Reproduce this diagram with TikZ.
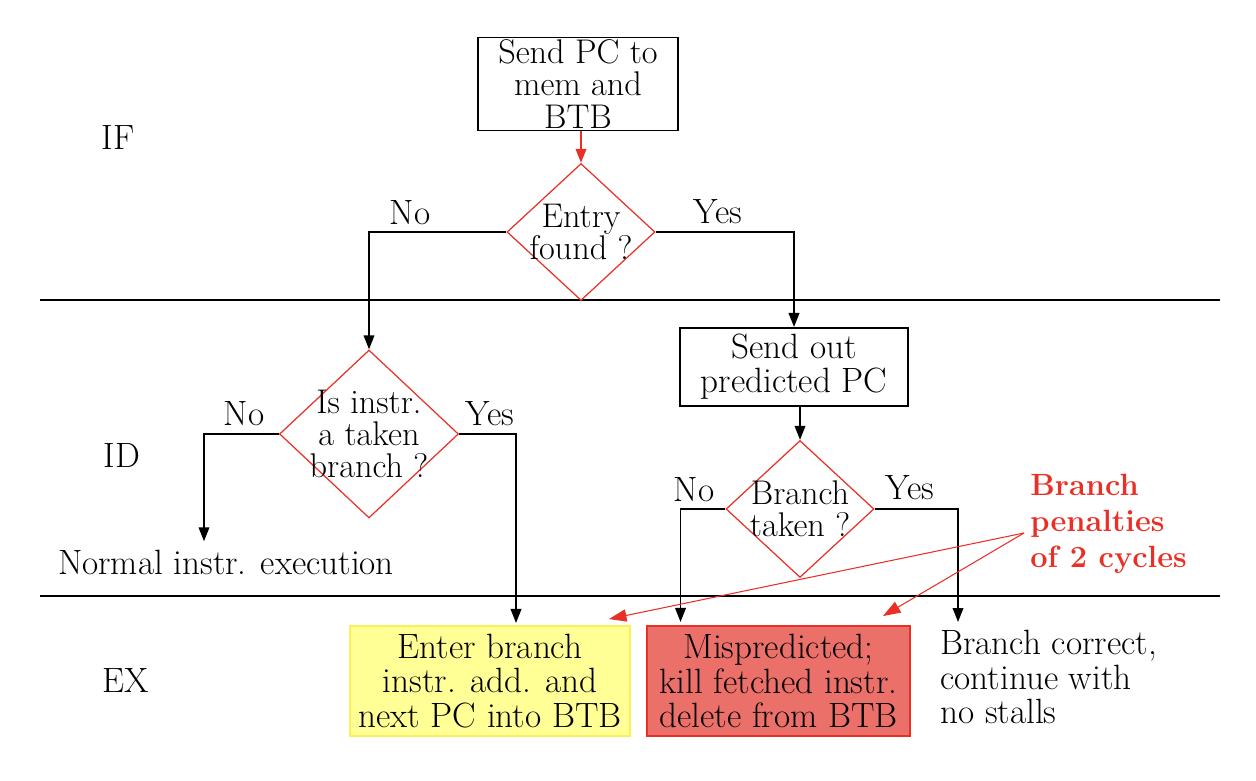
\documentclass[tikz,border=0pt]{standalone}
\usepackage{fontspec}
\usetikzlibrary{shapes.geometric,arrows.meta,calc}
\definecolor{penred}{RGB}{232,48,38}
\definecolor{redfill}{RGB}{236,112,106}
\definecolor{yelfill}{RGB}{255,255,150}
\definecolor{yelline}{RGB}{250,240,90}
\begin{document}
\begin{tikzpicture}[x=0.02cm,y=-0.02cm,
  txt/.style={font=\fontsize{20}{19.5}\selectfont, align=center, inner sep=0pt},
  tighttxt/.style={font=\fontsize{19.5}{18.3}\selectfont, align=center, inner sep=0pt},
  box/.style={draw, line width=1.1pt, inner sep=0pt},
  dia/.style={diamond, draw=penred, line width=0.7pt, inner sep=0pt},
  flow/.style={line width=1.1pt, -{Triangle[length=8pt,width=6pt]}},
  flowred/.style={line width=1.1pt, draw=penred, -{Triangle[length=8pt,width=6pt, fill=penred]}},
  penarrow/.style={line width=0.6pt, draw=penred, -{Triangle[length=10pt,width=7pt, fill=penred]}},
  sep/.style={line width=1.7pt}]
\useasboundingbox (0,0) rectangle (1256,780);

% stage separators
\draw[sep] (40,300) -- (1220,300);
\draw[sep] (40,596) -- (1220,596);

% stage labels
\node[txt] (lif) at (118,138) {IF};
\node[txt] (lid) at (122,455) {ID};
\node[txt] (lex) at (126,680) {EX};

% top box
\node[box, minimum width=4cm, minimum height=1.86cm] (b1) at (578,84) {};
\node[tighttxt] (b1t) at (578,84) {Send PC to\\mem and\\BTB};

% diamond 1
\node[dia, minimum width=2.96cm, minimum height=2.74cm] (d1) at (581,232) {};
\node[tighttxt] (d1t) at (581,232) {Entry\\found ?};
\node[txt] (no1) at (410,213) {No};
\node[txt] (yes1) at (718,212) {Yes};

% box 2
\node[box, minimum width=4.56cm, minimum height=1.56cm] (b2) at (794,367) {};
\node[txt] (b2t) at (794,367) {Send out\\predicted PC};

% diamond 2
\node[dia, minimum width=3.58cm, minimum height=3.36cm] (d2) at (369,434) {};
\node[tighttxt] (d2t) at (369,434) {Is instr.\\a taken\\branch ?};
\node[txt] (no2) at (244,414) {No};
\node[txt] (yes2) at (490,414) {Yes};

% diamond 3
\node[dia, minimum width=2.96cm, minimum height=2.74cm] (d3) at (800,509) {};
\node[tighttxt] (d3t) at (800,509) {Branch\\taken ?};
\node[txt] (no3) at (694,490) {No};
\node[txt] (yes3) at (910,488) {Yes};

% outcomes
\node[txt] (nie) at (226,562) {Normal instr. execution};
\node[box, draw=yelline, fill=yelfill, minimum width=5.6cm, minimum height=2.2cm] (yb) at (490,681) {};
\node[txt] (ybt) at (490,681) {Enter branch\\instr. add. and\\next PC into BTB};
\node[box, draw=penred, fill=redfill, minimum width=5.26cm, minimum height=2.2cm] (rb) at (778.5,681) {};
\node[txt] (rbt) at (778.5,681) {Mispredicted;\\kill fetched instr.\\delete from BTB};
\node[txt, align=left, anchor=west] (bc) at (940,677) {Branch correct,\\continue with\\no stalls};

% penalty note
\node[font=\fontsize{17.5}{20.5}\selectfont\bfseries, text=penred, align=left, anchor=north west, inner sep=0pt] (pen) at (1030,474) {Branch\\penalties\\of 2 cycles};
\coordinate (penpt) at (1024,533);

% connectors
\draw[flowred] (d1.north |- b1.south) -- (d1.north);
\draw[flow] (d1.west) -| (d2.north);
\draw[flow] (d1.east) -| (b2.north);
\draw[flow] (d3.north |- b2.south) -- (d3.north);
\draw[flow] (d2.west) -| ($(nie.north)+(-22,-8)$);
\draw[flow] (d2.east) -| ($(yb.north)+(26,-2)$);
\draw[flow] (d3.west) -| ($(rb.north)+(-98,-3)$);
\draw[flow] (d3.east) -| ($(bc.north west)+(18,-8)$);

\draw[penarrow] (penpt) -- ($(yb.north east)+(-22,-6)$);
\draw[penarrow] (penpt) -- ($(rb.north east)+(-28,-9)$);
\end{tikzpicture}
\end{document}
